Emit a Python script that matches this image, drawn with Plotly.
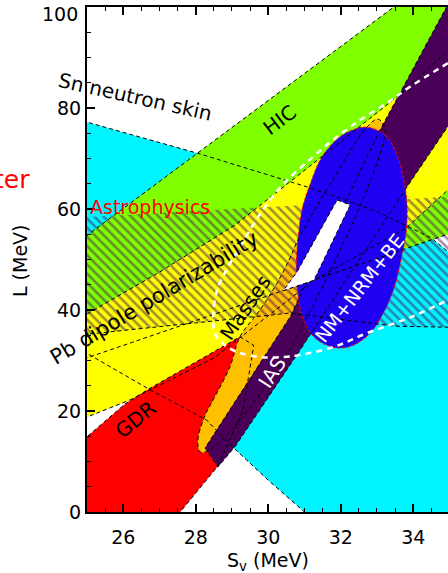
import plotly.graph_objects as go

# ---------------- constraint regions in the (S_v, L) plane, MeV ----------------
# Sn neutron skin band
SN_SV = [24.5, 25.0, 28.12, 31.15, 33.0, 34.49, 35.0, 35.6, 35.6, 31.34, 31.0, 30.0, 29.0, 28.3, 26.74, 25.0, 24.5]
SN_L = [78.3, 77.2, 70.9, 64.2, 59.5, 54.3, 51.3, 47.0, -2.0, -2.0, 0.0, 6.3, 13.0, 18.2, 24.2, 31.4, 33.5]

# heavy-ion collisions band
HIC_SV = [24.5, 33.47, 34.4, 35.6, 35.6, 24.5]
HIC_L = [52.1, 100.0, 105.0, 105.0, 56.6, 29.3]

# Pb dipole polarizability band
PB_SV = [24.5, 25.0, 27.0, 29.08, 31.15, 33.55, 35.6, 35.6, 34.96, 33.83, 33.55, 31.26, 28.5, 26.19, 25.0, 24.5]
PB_L = [37.2, 39.2, 47.5, 56.8, 68.5, 82.2, 95.5, 68.5, 63.8, 56.4, 55.2, 45.9, 30.5, 22.2, 18.8, 17.3]

# giant dipole resonances
GDR_SV = [24.5, 27.34, 27.57, 28.6, 29.3, 29.6, 29.22, 26.74, 26.05, 25.0, 24.5]
GDR_L = [-2.0, -2.0, 0.0, 9.0, 20.0, 33.0, 34.7, 24.5, 21.4, 14.9, 11.8]

# nuclear masses
MASS_SV = [28.12, 28.06, 28.26, 28.48, 28.94, 29.22, 29.77, 30.24, 30.60, 30.82, 31.70, 32.72, 33.03, 33.22,
           30.88, 29.22, 28.39, 28.12]
MASS_L = [11.9, 14.3, 19.2, 22.2, 28.7, 34.7, 40.0, 45.3, 50.3, 53.9, 64.8, 76.2, 77.8, 75.6,
          36.0, 18.2, 12.3, 11.9]

# isobaric analog states
IAS_SV = [28.26, 28.61, 29.08, 29.94, 30.88, 33.83, 34.96, 35.84, 35.84, 35.37, 34.57, 33.08, 30.60, 29.11]
IAS_L = [12.7, 8.9, 12.9, 22.2, 32.1, 64.4, 76.2, 85.7, 106.0, 106.0, 95.4, 75.6, 38.6, 22.2]

# astrophysical (neutron-star) constraint, hatched
ASTRO_SV = [24.5, 35.6, 35.6, 33.5, 30.6, 25.0, 24.5]
ASTRO_L = [58.2, 62.7, 36.5, 36.8, 39.4, 35.2, 34.8]
ASTRO_EDGE_SV = [24.5, 25.0, 30.6, 33.5, 35.6]
ASTRO_EDGE_L = [34.8, 35.2, 39.4, 36.8, 36.5]

# neutron matter + nuclear radii + binding energies
NM_SV = [32.72, 33.22, 33.55, 33.74, 33.83, 33.80, 33.69, 33.50, 33.22, 32.81, 32.31, 31.90, 31.48,
         31.15, 30.93, 30.82, 30.77, 30.82, 30.93, 31.15, 31.48, 31.98, 32.39, 32.72]
NM_L = [76.2, 74.7, 70.7, 65.7, 60.8, 55.2, 50.9, 45.0, 40.0, 35.4, 32.9, 32.5, 33.5,
        35.6, 39.0, 43.0, 47.9, 53.9, 59.8, 64.8, 70.3, 74.3, 75.8, 76.2]

# region allowed by all constraints together
JOINT_SV = [31.90, 32.26, 31.26, 30.41, 30.79, 31.90]
JOINT_L = [61.8, 60.8, 45.9, 43.8, 47.5, 61.8]

# unitary-gas lower bound
UG_SV = [34.96, 33.91, 33.28, 32.45, 31.79, 31.23, 30.52, 30.05, 29.63, 29.22, 28.89, 28.59, 28.48,
         28.53, 28.72, 29.14, 29.77, 30.41, 30.88, 31.81, 32.72, 33.94, 34.96]
UG_L = [88.9, 84.2, 81.0, 77.2, 73.7, 70.3, 65.7, 61.8, 57.4, 52.5, 48.5, 44.0, 39.0,
        35.4, 33.5, 31.7, 30.7, 30.7, 31.1, 32.7, 35.4, 38.6, 42.0]

X_TICKS = [26, 28, 30, 32, 34]
Y_TICKS = [0, 20, 40, 60, 80]
Y_TOP_LABEL = "100"

FONT = "DejaVu Sans"
DASH = "4px,3px"

fig = go.Figure()


def band(xs, ys, color, shape="linear"):
    fig.add_trace(go.Scatter(x=xs, y=ys, mode="lines", fill="toself", fillcolor=color,
                             line=dict(width=0, shape=shape), hoverinfo="skip", showlegend=False))


def edge(xs, ys, close=True, color="black", width=1, dash=DASH, shape="linear"):
    xs, ys = list(xs), list(ys)
    if close:
        xs.append(xs[0])
        ys.append(ys[0])
    fig.add_trace(go.Scatter(x=xs, y=ys, mode="lines",
                             line=dict(color=color, width=width, dash=dash, shape=shape),
                             hoverinfo="skip", showlegend=False))


# filled regions, bottom to top
band(SN_SV, SN_L, "#00F4FF")
band(HIC_SV, HIC_L, "#80FF00")
band(PB_SV, PB_L, "#FFFF00")
band(GDR_SV, GDR_L, "#FF0000")
band(MASS_SV, MASS_L, "#FFC000", shape="spline")
band(IAS_SV, IAS_L, "#4A0058")

# hatched astrophysics region
fig.add_trace(go.Scatter(x=ASTRO_SV, y=ASTRO_L, mode="lines", fill="toself",
                         fillcolor="rgba(0,0,0,0)", line=dict(width=0),
                         fillpattern=dict(shape="\\", fgcolor="#4B1A5E", bgcolor="rgba(0,0,0,0)",
                                          size=6.5, solidity=0.4),
                         hoverinfo="skip", showlegend=False))

# NM+NRM+BE ellipse with red dashed rim
fig.add_trace(go.Scatter(x=NM_SV, y=NM_L, mode="lines", fill="toself", fillcolor="#2000F0",
                         line=dict(color="red", width=1, dash="3px,2px", shape="spline"),
                         hoverinfo="skip", showlegend=False))

# dashed boundaries of the underlying constraints
edge(SN_SV, SN_L)
edge(HIC_SV, HIC_L)
edge(PB_SV, PB_L)
edge(GDR_SV, GDR_L)
edge(MASS_SV, MASS_L, close=False, shape="spline")
edge(IAS_SV, IAS_L)
edge(ASTRO_EDGE_SV, ASTRO_EDGE_L, close=False)

# joint allowed region
band(JOINT_SV, JOINT_L, "#FFFFFF")
edge(JOINT_SV, JOINT_L, close=False)

# unitary gas bound
edge(UG_SV, UG_L, close=False, color="white", width=2.5, dash="6px,5px", shape="spline")

labels = [
    dict(text="Sn neutron skin", x=26.35, y=82.2, textangle=12.6, size=20, color="black"),
    dict(text="HIC", x=30.31, y=77.7, textangle=-37, size=20, color="black"),
    dict(text="Pb dipole polarizability", x=26.85, y=42.4, textangle=-31, size=21, color="black"),
    dict(text="Masses", x=29.36, y=40.4, textangle=-56, size=20, color="black"),
    dict(text="IAS", x=30.09, y=27.6, textangle=-57, size=20, color="white"),
    dict(text="NM+NRM+BE", x=32.52, y=44.3, textangle=-52, size=19, color="white"),
    dict(text="GDR", x=26.35, y=18.4, textangle=-39, size=20, color="black"),
]
for lab in labels:
    fig.add_annotation(text=lab["text"], x=lab["x"], y=lab["y"], xref="x", yref="y",
                       xanchor="center", yanchor="middle",
                       textangle=lab["textangle"], showarrow=False,
                       font=dict(family=FONT, size=lab["size"], color=lab["color"]))

fig.add_annotation(text="Astrophysics", x=25.03, y=60.3, xref="x", yref="y", xanchor="left",
                   yanchor="middle", showarrow=False, font=dict(family=FONT, size=19, color="#FF0000"))
fig.add_annotation(text="ter", x=-0.1524, y=65.9, xref="paper", yref="y", xanchor="right",
                   yanchor="middle", showarrow=False, font=dict(family=FONT, size=25, color="#FF0000"))

# top tick label of the L axis, nudged inside the figure
fig.add_annotation(text=Y_TOP_LABEL, x=-0.0194, y=98.6, xref="paper", yref="y", xanchor="right",
                   yanchor="middle", showarrow=False, font=dict(family=FONT, size=19, color="black"))

# axis titles
fig.add_annotation(text="L (MeV)", x=-0.1856, y=49.9, xref="paper", yref="y", textangle=-90,
                   xanchor="center", yanchor="middle",
                   showarrow=False, font=dict(family=FONT, size=19, color="black"))
fig.add_annotation(text="S<sub>v</sub> (MeV)", x=29.99, y=-0.099, xref="x", yref="paper",
                   xanchor="center", yanchor="middle",
                   showarrow=False, font=dict(family=FONT, size=19, color="black"))

axis_common = dict(showgrid=False, zeroline=False, showline=True, linecolor="black", linewidth=2,
                   ticks="inside", ticklen=8, tickwidth=1.5, tickcolor="black",
                   tickfont=dict(family=FONT, size=19, color="black"))

fig.update_xaxes(range=[25, 34.959], tickvals=X_TICKS, mirror="ticks", ticklabelstandoff=7,
                 minor=dict(ticks="inside", ticklen=4, dtick=0.5, tick0=25, tickcolor="black", tickwidth=1.2),
                 **axis_common)
fig.update_yaxes(range=[0, 100], tickvals=Y_TICKS,
                 minor=dict(ticks="inside", ticklen=4, dtick=5, tick0=0, tickcolor="black", tickwidth=1.2),
                 **axis_common)

fig.update_layout(width=448, height=573, margin=dict(l=87, r=0, t=7, b=61),
                  plot_bgcolor="white", paper_bgcolor="white", showlegend=False)

fig.write_html("out.html")
